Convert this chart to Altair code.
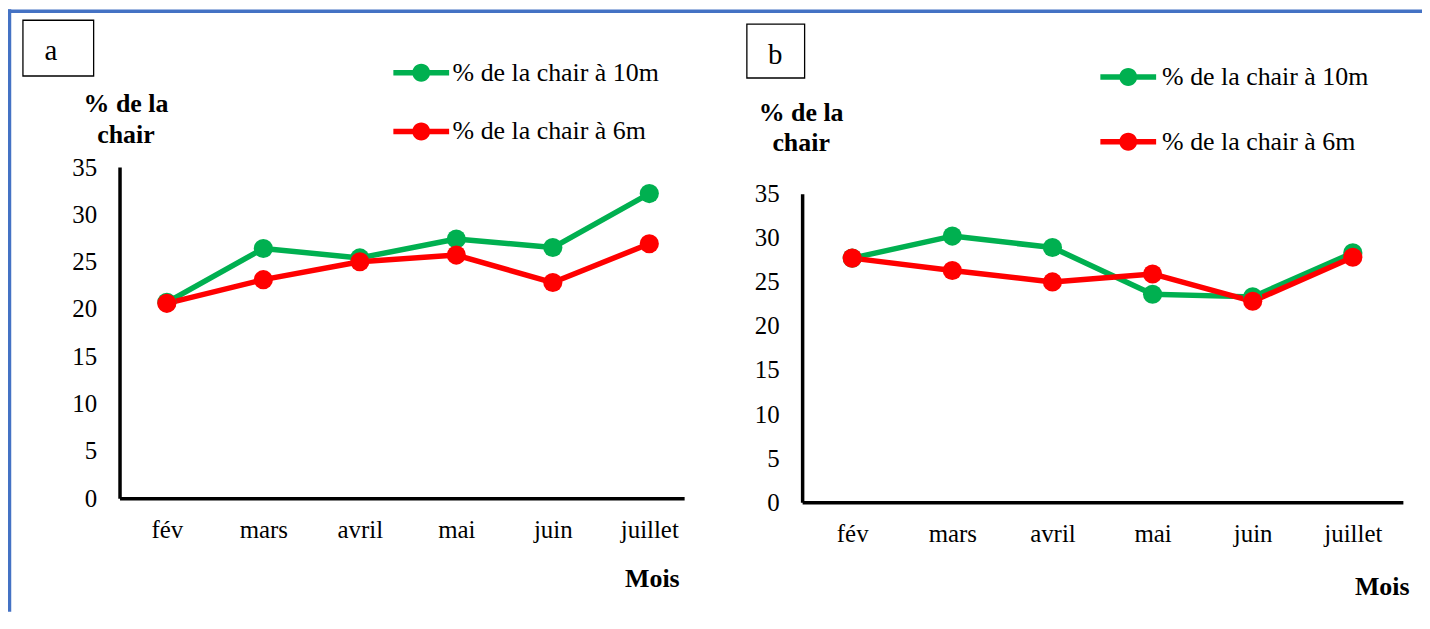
import altair as alt
import pandas as pd

# ---- data ----
mois = ["fév", "mars", "avril", "mai", "juin", "juillet"]
series = ["% de la chair à 10m", "% de la chair à 6m"]
colors = ["#00B050", "#FF0000"]

a_10m = [20.7, 26.4, 25.4, 27.4, 26.5, 32.2]
a_6m = [20.6, 23.1, 25.0, 25.7, 22.8, 26.9]
b_10m = [27.7, 30.2, 28.9, 23.6, 23.3, 28.3]
b_6m = [27.7, 26.3, 25.0, 25.9, 22.8, 27.8]

y_ticks = [0, 5, 10, 15, 20, 25, 30, 35]
y_title = ["% de la", "chair"]
x_title = "Mois"
panel_letters = ["a", "b"]

FONT = "Liberation Serif"
BLUE = "#4472C4"
W, H = 1420, 605

# legend symbol: line segment with a dot in the middle
SYMBOL = ("M-2.8,-0.27H2.8V0.27H-2.8Z "
          "M0.9,0A0.9,0.9 0 1,1 -0.9,0A0.9,0.9 0 1,1 0.9,0Z")


def long_df(v10, v6):
    rows = []
    for s, vals in zip(series, [v10, v6]):
        for m, v in zip(mois, vals):
            rows.append({"mois": m, "serie": s, "valeur": v})
    return pd.DataFrame(rows)


def panel(df, x_range, x_pad, x_align, y_range, y_axis_x, x_axis_y,
          ytitle_x, ytitle_y, mois_x, mois_y, leg_x, leg_y, row_pad, lab_off):
    x = alt.X(
        "mois:N", sort=mois,
        scale=alt.Scale(type="point", domain=mois, range=x_range,
                        padding=x_pad, align=x_align),
        axis=alt.Axis(
            orient="bottom", offset=x_axis_y - H, title=x_title,
            titleX=mois_x, titleY=mois_y, titleAlign="right",
            titleBaseline="alphabetic", titleFont=FONT, titleFontSize=26,
            titleFontWeight="bold", titleColor="black", labelFont=FONT,
            labelFontSize=25, labelColor="black", labelPadding=19,
            labelAngle=0, ticks=False, tickSize=0, domainColor="black",
            domainWidth=3.5, grid=False),
    )
    y = alt.Y(
        "valeur:Q",
        scale=alt.Scale(domain=[0, 35], range=y_range, nice=False, zero=False),
        axis=alt.Axis(
            orient="left", offset=-y_axis_x, values=y_ticks, title=y_title,
            titleAngle=0, titleX=ytitle_x, titleY=ytitle_y,
            titleAlign="center", titleBaseline="top", titleLineHeight=30.5,
            titleFont=FONT, titleFontSize=26, titleFontWeight="bold",
            titleColor="black", labelFont=FONT, labelFontSize=25,
            labelColor="black", labelPadding=23, ticks=False, tickSize=0,
            domainColor="black", domainWidth=3.5, grid=False),
    )
    cscale = alt.Scale(domain=series, range=colors)
    base = alt.Chart(df)
    lines = base.mark_line(strokeWidth=5.5, strokeJoin="round",
                           strokeCap="round").encode(
        x=x, y=y, stroke=alt.Stroke("serie:N", scale=cscale, legend=None),
        detail="serie:N")
    pts = base.mark_point(filled=True, size=370, opacity=1).encode(
        x=x, y=y,
        color=alt.Color(
            "serie:N", scale=cscale,
            legend=alt.Legend(
                title=None, orient="none", legendX=leg_x, legendY=leg_y,
                direction="vertical", symbolType=SYMBOL, symbolSize=400,
                symbolStrokeWidth=0, labelFont=FONT, labelFontSize=26,
                labelColor="black", labelOffset=lab_off, rowPadding=row_pad,
                padding=0, labelLimit=0)),
    )
    return alt.layer(lines, pts)


panel_a = panel(long_df(a_10m, a_6m), [112, 679], 0.4257, 0.576,
                [491, 158.5], 112, 491, 6, 82, 674, 89, 402, 50.7, 33, 18.5)
panel_b = panel(long_df(b_10m, b_6m), [797.5, 1400.8], 0.5, 0.5,
                [495, 185.3], 797.5, 495, -1.5, 90.5, 1407, 93, 1112, 55, 39,
                21)

dummy = pd.DataFrame({"k": [0]})
border_top = alt.Chart(dummy).mark_rule(color=BLUE, strokeWidth=3.5).encode(
    x=alt.value(0), x2=alt.value(W), y=alt.value(2))
border_left = alt.Chart(dummy).mark_rule(color=BLUE, strokeWidth=3.5).encode(
    x=alt.value(1.5), y=alt.value(0), y2=alt.value(H))

box_a = alt.Chart(dummy).mark_rect(fill="white", stroke="black",
                                   strokeWidth=1.3).encode(
    x=alt.value(15), x2=alt.value(86), y=alt.value(11), y2=alt.value(67))
box_b = alt.Chart(dummy).mark_rect(fill="white", stroke="black",
                                   strokeWidth=1.3).encode(
    x=alt.value(742), x2=alt.value(800), y=alt.value(15), y2=alt.value(69))
txt_a = alt.Chart(dummy).mark_text(text=panel_letters[0], font=FONT,
                                   fontSize=29, align="center",
                                   baseline="alphabetic", color="black").encode(
    x=alt.value(43), y=alt.value(51))
txt_b = alt.Chart(dummy).mark_text(text=panel_letters[1], font=FONT,
                                   fontSize=29, align="center",
                                   baseline="alphabetic", color="black").encode(
    x=alt.value(770.5), y=alt.value(55.3))

chart = alt.layer(
    border_top, border_left, box_a, txt_a, box_b, txt_b, panel_a, panel_b
).resolve_scale(
    x="independent", y="independent", color="independent"
).properties(
    width=W, height=H, padding=0, background="white",
    autosize=alt.AutoSizeParams(type="none"),
).configure_view(stroke=None)

chart.save("out.html", embed_options={"renderer": "svg", "actions": False})
